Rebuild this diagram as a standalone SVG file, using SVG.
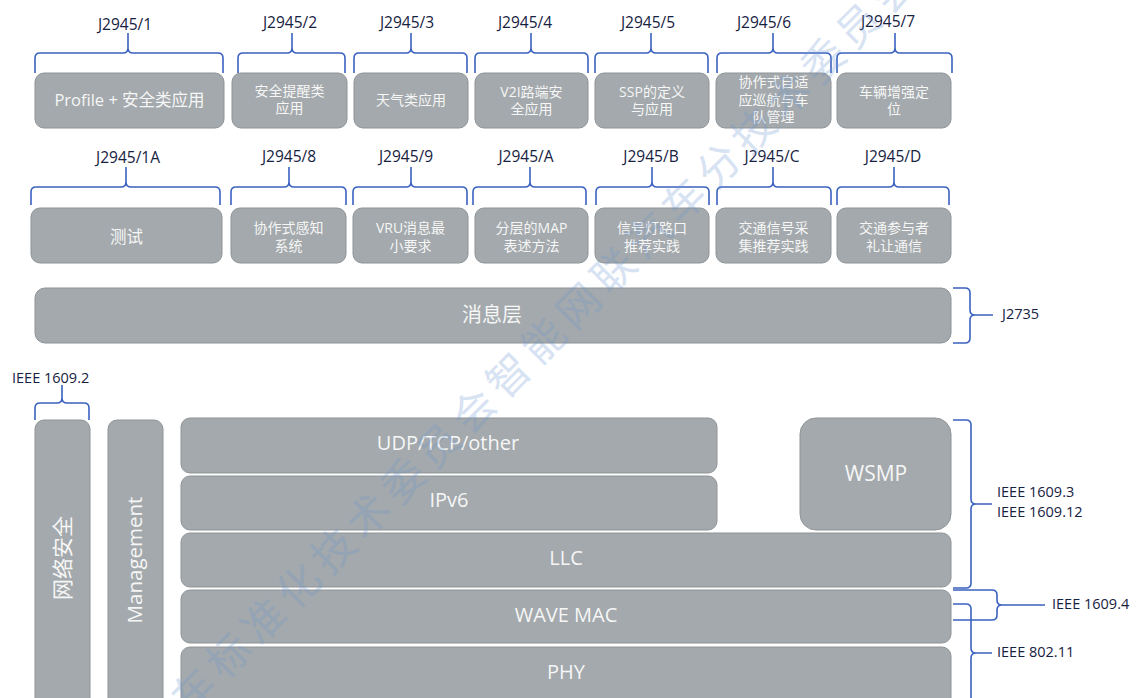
<svg xmlns="http://www.w3.org/2000/svg" width="1137" height="698" viewBox="0 0 1137 698">
<style>
.box{fill:#a3a9ac;stroke:#8e9497;stroke-width:1}
.bt{font-family:"Open Sans","Noto Sans CJK SC",sans-serif;fill:#f6f6f6;text-anchor:middle}
.s14{font-size:14px}
.s16{font-size:16.5px}
.s18{font-size:20px}
.s20{font-size:20px}
.br{fill:none;stroke:#3b62c0;stroke-width:1.6}
.lb{font-family:"Open Sans","Noto Sans CJK SC",sans-serif;fill:#16223f;font-size:15.5px;text-anchor:middle}
.lr{font-family:"Open Sans","Noto Sans CJK SC",sans-serif;fill:#16223f;font-size:14.5px}
.wm{font-family:"Noto Sans CJK SC",sans-serif;font-size:42px;letter-spacing:7.5px;fill:#6f97d0;opacity:0.27}
</style>
<rect width="1137" height="698" fill="#ffffff"/>

<g id="row1">
<g id="n-j2945-1"><rect class="box" x="35" y="73" width="189" height="55" rx="9"/><text class="bt s16" x="129.5" y="106">Profile + 安全类应用</text></g>
<g id="n-j2945-2"><rect class="box" x="232" y="73" width="115" height="55" rx="9"/><text class="bt s14" x="289.5" y="96">安全提醒类</text><text class="bt s14" x="289.5" y="113">应用</text></g>
<g id="n-j2945-3"><rect class="box" x="354" y="73" width="114" height="55" rx="9"/><text class="bt s14" x="411" y="105">天气类应用</text></g>
<g id="n-j2945-4"><rect class="box" x="475" y="73" width="113" height="55" rx="9"/><text class="bt s14" x="531.5" y="97">V2I路端安</text><text class="bt s14" x="531.5" y="114">全应用</text></g>
<g id="n-j2945-5"><rect class="box" x="595" y="73" width="114" height="55" rx="9"/><text class="bt s14" x="652" y="97">SSP的定义</text><text class="bt s14" x="652" y="114">与应用</text></g>
<g id="n-j2945-6"><rect class="box" x="716" y="73" width="115" height="55" rx="9"/><text class="bt s14" x="773.5" y="87">协作式自适</text><text class="bt s14" x="773.5" y="104.5">应巡航与车</text><text class="bt s14" x="773.5" y="122">队管理</text></g>
<g id="n-j2945-7"><rect class="box" x="837" y="73" width="114" height="55" rx="9"/><text class="bt s14" x="894" y="97">车辆增强定</text><text class="bt s14" x="894" y="114">位</text></g>
</g>

<g id="row2">
<g id="n-j2945-1a"><rect class="box" x="31" y="208" width="191" height="55" rx="9"/><text class="bt s16" x="126.5" y="243">测试</text></g>
<g id="n-j2945-8"><rect class="box" x="231" y="208" width="115" height="55" rx="9"/><text class="bt s14" x="288.5" y="233">协作式感知</text><text class="bt s14" x="288.5" y="251">系统</text></g>
<g id="n-j2945-9"><rect class="box" x="353" y="208" width="115" height="55" rx="9"/><text class="bt s14" x="410.5" y="233">VRU消息最</text><text class="bt s14" x="410.5" y="251">小要求</text></g>
<g id="n-j2945-a"><rect class="box" x="475" y="208" width="113" height="55" rx="9"/><text class="bt s14" x="531.5" y="233">分层的MAP</text><text class="bt s14" x="531.5" y="251">表述方法</text></g>
<g id="n-j2945-b"><rect class="box" x="595" y="208" width="114" height="55" rx="9"/><text class="bt s14" x="652" y="233">信号灯路口</text><text class="bt s14" x="652" y="251">推荐实践</text></g>
<g id="n-j2945-c"><rect class="box" x="716" y="208" width="115" height="55" rx="9"/><text class="bt s14" x="773.5" y="233">交通信号采</text><text class="bt s14" x="773.5" y="251">集推荐实践</text></g>
<g id="n-j2945-d"><rect class="box" x="837" y="208" width="114" height="55" rx="9"/><text class="bt s14" x="894" y="233">交通参与者</text><text class="bt s14" x="894" y="251">礼让通信</text></g>
</g>

<g id="n-message"><rect class="box" x="35" y="288" width="916" height="55" rx="10"/><text class="bt s20" x="492" y="322">消息层</text></g>

<g id="n-security"><rect class="box" x="35" y="420" width="55" height="300" rx="9"/><text class="bt" style="font-size:21px" transform="translate(62.5,558) rotate(-90)" x="0" y="7.5">网络安全</text></g>
<g id="n-management"><rect class="box" x="108" y="420" width="55" height="300" rx="9"/><text class="bt" style="font-size:20.5px" transform="translate(135.5,560) rotate(-90)" x="0" y="6.5">Management</text></g>
<g id="n-phy"><rect class="box" x="181" y="647" width="770" height="70" rx="9"/><text class="bt s18" x="566" y="679">PHY</text></g>
<g id="n-wavemac"><rect class="box" x="181" y="590" width="770" height="53" rx="9"/><text class="bt s18" x="566" y="622">WAVE MAC</text></g>
<g id="n-llc"><rect class="box" x="181" y="533" width="770" height="54" rx="9"/><text class="bt s18" x="566" y="565">LLC</text></g>
<g id="n-ipv6"><rect class="box" x="181" y="476" width="536" height="54" rx="9"/><text class="bt s18" x="449" y="507">IPv6</text></g>
<g id="n-udp"><rect class="box" x="181" y="418" width="536" height="55" rx="9"/><text class="bt s18" x="448" y="450">UDP/TCP/other</text></g>
<g id="n-wsmp"><rect class="box" x="800" y="418" width="151" height="112" rx="16"/><text class="bt" style="font-size:21px" x="876" y="481">WSMP</text></g>

<g id="connectors">
<path class="br" d="M35,73 L35,58 Q35,53 40,53 L123,53 Q128,53 128,48 L128,33 M128,48 Q128,53 133,53 L218,53 Q223,53 223,58 L223,73"/>
<path class="br" d="M238,73 L238,58 Q238,53 243,53 L287,53 Q292,53 292,48 L292,33 M292,48 Q292,53 297,53 L340,53 Q345,53 345,58 L345,73"/>
<path class="br" d="M354,73 L354,58 Q354,53 359,53 L406,53 Q411,53 411,48 L411,33 M411,48 Q411,53 416,53 L462,53 Q467,53 467,58 L467,73"/>
<path class="br" d="M475,73 L475,58 Q475,53 480,53 L526,53 Q531,53 531,48 L531,33 M531,48 Q531,53 536,53 L583,53 Q588,53 588,58 L588,73"/>
<path class="br" d="M595,73 L595,58 Q595,53 600,53 L646,53 Q651,53 651,48 L651,33 M651,48 Q651,53 656,53 L703,53 Q708,53 708,58 L708,73"/>
<path class="br" d="M717,73 L717,58 Q717,53 722,53 L768,53 Q773,53 773,48 L773,33 M773,48 Q773,53 778,53 L826,53 Q831,53 831,58 L831,73"/>
<path class="br" d="M837,73 L837,58 Q837,53 842,53 L890,53 Q895,53 895,48 L895,33 M895,48 Q895,53 900,53 L947,53 Q952,53 952,58 L952,73"/>

<path class="br" d="M31,205 L31,192 Q31,187 36,187 L121,187 Q126,187 126,182 L126,167 M126,182 Q126,187 131,187 L215,187 Q220,187 220,192 L220,205"/>
<path class="br" d="M231,205 L231,192 Q231,187 236,187 L284,187 Q289,187 289,182 L289,167 M289,182 Q289,187 294,187 L341,187 Q346,187 346,192 L346,205"/>
<path class="br" d="M353,205 L353,192 Q353,187 358,187 L406,187 Q411,187 411,182 L411,167 M411,182 Q411,187 416,187 L462,187 Q467,187 467,192 L467,205"/>
<path class="br" d="M473,205 L473,192 Q473,187 478,187 L525,187 Q530,187 530,182 L530,167 M530,182 Q530,187 535,187 L581,187 Q586,187 586,192 L586,205"/>
<path class="br" d="M596,205 L596,192 Q596,187 601,187 L647,187 Q652,187 652,182 L652,167 M652,182 Q652,187 657,187 L704,187 Q709,187 709,192 L709,205"/>
<path class="br" d="M717,205 L717,192 Q717,187 722,187 L768,187 Q773,187 773,182 L773,167 M773,182 Q773,187 778,187 L826,187 Q831,187 831,192 L831,205"/>
<path class="br" d="M837,205 L837,192 Q837,187 842,187 L889,187 Q894,187 894,182 L894,167 M894,182 Q894,187 899,187 L944,187 Q949,187 949,192 L949,205"/>

<path class="br" d="M35,420 L35,408 Q35,403 40,403 L57,403 Q62,403 62,398 L62,385 M62,398 Q62,403 67,403 L84,403 Q89,403 89,408 L89,420"/>

<path class="br" d="M953,288 L965,288 Q970,288 970,293 L970,310 Q970,315 975,315 L993,315 M975,315 Q970,315 970,320 L970,338 Q970,343 965,343 L953,343"/>
<path class="br" d="M953,420 L966,420 Q971,420 971,425 L971,499 Q971,504 976,504 L992,504 M976,504 Q971,504 971,509 L971,583 Q971,588 966,588 L953,588"/>
<path class="br" d="M953,590 L992,590 Q997,590 997,595 L997,600 Q997,605 1002,605 L1045,605 M1002,605 Q997,605 997,610 L997,615 Q997,620 992,620 L953,620"/>
<path class="br" d="M953,604 L966,604 Q971,604 971,609 L971,648 Q971,653 976,653 L992,653 M976,653 Q971,653 971,658 L971,710"/>
</g>

<g id="labels">
<text class="lb" x="125" y="30">J2945/1</text>
<text class="lb" x="290" y="28">J2945/2</text>
<text class="lb" x="407" y="28">J2945/3</text>
<text class="lb" x="525" y="28">J2945/4</text>
<text class="lb" x="648" y="28">J2945/5</text>
<text class="lb" x="764" y="28">J2945/6</text>
<text class="lb" x="888" y="27">J2945/7</text>
<text class="lb" x="128" y="163">J2945/1A</text>
<text class="lb" x="289" y="162">J2945/8</text>
<text class="lb" x="406" y="162">J2945/9</text>
<text class="lb" x="526" y="162">J2945/A</text>
<text class="lb" x="651" y="162">J2945/B</text>
<text class="lb" x="772" y="162">J2945/C</text>
<text class="lb" x="893" y="162">J2945/D</text>
<text class="lr" x="12" y="383">IEEE 1609.2</text>
<text class="lr" x="1002" y="319">J2735</text>
<text class="lr" x="997" y="497">IEEE 1609.3</text>
<text class="lr" x="997" y="517">IEEE 1609.12</text>
<text class="lr" x="1052" y="609">IEEE 1609.4</text>
<text class="lr" x="997" y="657">IEEE 802.11</text>
</g>

<text class="wm" transform="translate(193,690) rotate(-45)" x="-70.5" y="16">汽车标准化技术委员会智能网联汽车分技术委员会</text>
</svg>
